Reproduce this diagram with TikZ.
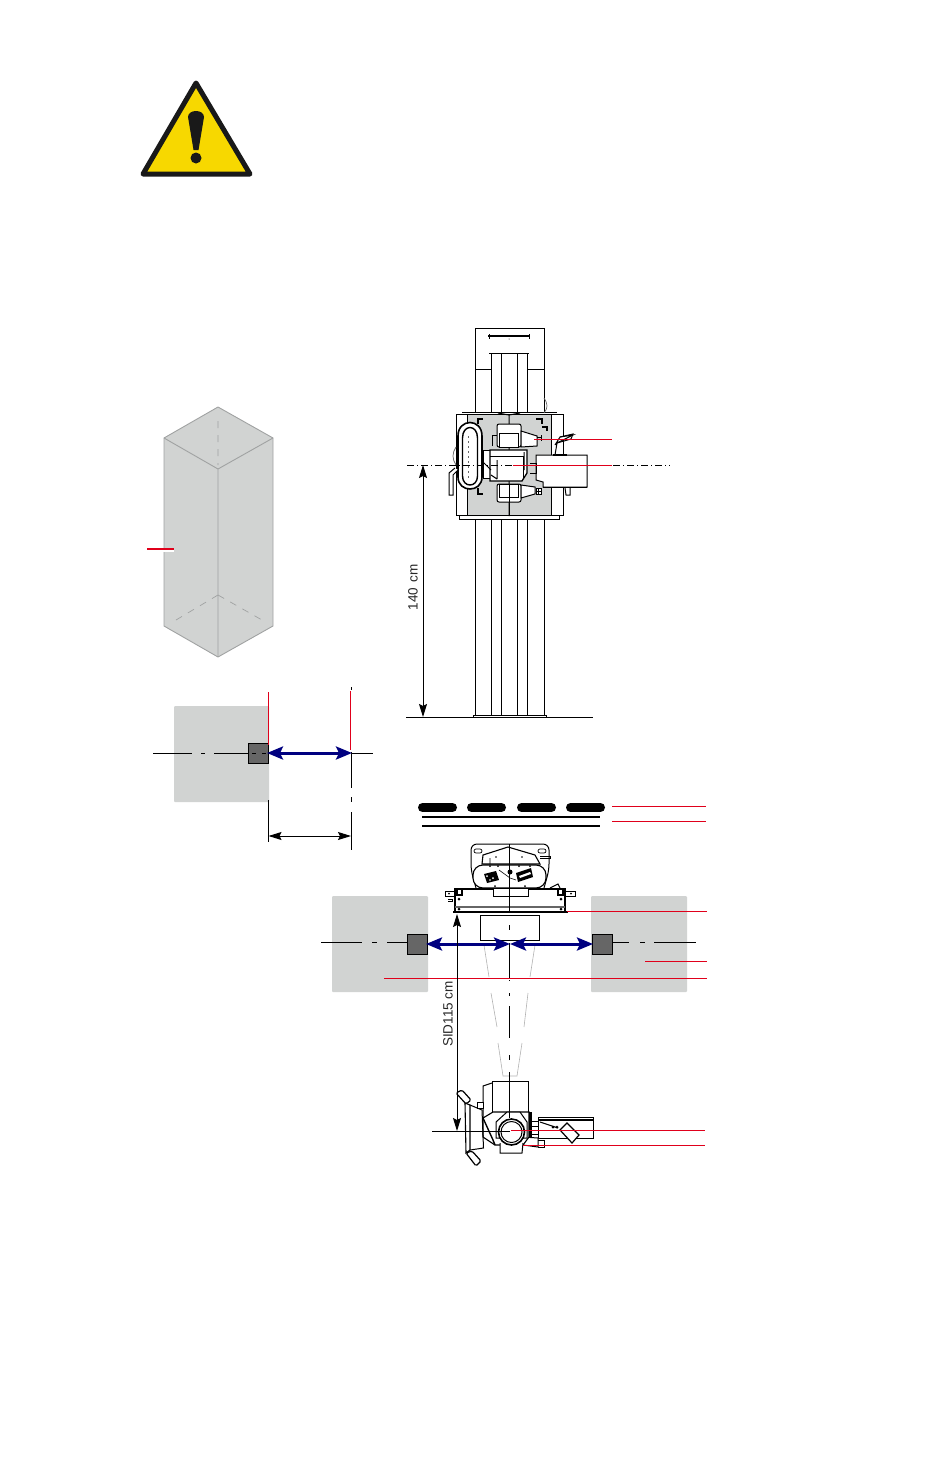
\documentclass[tikz,border=0pt]{standalone}
\usepackage{fontspec}
\setmainfont{Liberation Sans}
\usetikzlibrary{arrows.meta}
\definecolor{panelgray}{HTML}{D1D3D2}
\definecolor{boxgray}{HTML}{A0A2A2}
\definecolor{signyellow}{HTML}{F7D800}
\definecolor{leadred}{HTML}{E0001B}
\definecolor{arrowblue}{HTML}{000080}
\tikzset{
	ink/.style={line width=1pt,black},
	heavy/.style={line width=1.8pt,black},
	leader/.style={line width=1pt,leadred},
	panel/.style={fill=panelgray,rounded corners=1pt},
	blockbox/.style={fill=black!60,draw=black,line width=1pt},
	travel/.style={line width=3pt,arrowblue,{Stealth[length=16pt,width=13pt,inset=3pt]}-{Stealth[length=16pt,width=13pt,inset=3pt]}},
	dimline/.style={line width=1pt,black,{Stealth[length=13pt,width=8pt,inset=2pt]}-{Stealth[length=13pt,width=8pt,inset=2pt]}},
	taper/.style={line width=0.6pt,black!30},
	label/.style={font=\fontsize{13.5}{13.5}\selectfont,text=black!85,rotate=90,inner sep=0pt}
}
\begin{document}
\begin{tikzpicture}[x=1pt,y=-1pt]
	\useasboundingbox (0,0) rectangle (950,1480);
	% warning sign
	\draw[line width=5pt,line join=round,fill=signyellow,color=black!90,fill=signyellow] (196,83)--(250,174)--(143,174)--cycle;
	\fill[black!90] (188,117) .. controls (188,109) and (204,109) .. (204,117) -- (198.5,150) -- (193.5,150) -- cycle;
	\fill[black!90] (196,158) circle(5.5);
	% room box
	\draw[fill=panelgray,draw=boxgray,line width=0.9pt,line join=round] (218,407)--(273,438)--(273,626)--(218,657)--(164,626)--(164,438)--cycle;
	\draw[draw=boxgray,line width=0.9pt] (164,438)--(218,469)--(273,438) (218,469)--(218,657);
	\draw[draw=boxgray,line width=0.7pt,dash pattern=on 7pt off 7pt] (218,421)--(218,465) (218,595)--(176,620) (218,595)--(262,620);
	\draw[white,line width=1.2pt] (147,551)--(174,551);
	\draw[leader,line width=1.2pt] (147,549)--(174,549);
	% left plan view
	\fill[panel] (174,706) rectangle (269,802);
	\draw[ink] (153,753)--(192,753) (201,753)--(205,753) (214,753)--(248,753) (352,753)--(373,753);
	\draw[blockbox] (248,743) rectangle (268,763);
	\draw[ink] (252,753)--(256,753) (262,753)--(266,753);
	\draw[ink] (351.5,687)--(351.5,690);
	\draw[ink] (351.5,752)--(351.5,788);
	\draw[ink] (351.5,797)--(351.5,802) (351.5,812)--(351.5,850);
	\draw[ink] (268,800)--(268,842);
	\draw[leader] (268,692)--(268,745);
	\draw[leader] (350.5,691)--(350.5,750);
	\draw[travel] (267,753)--(352,753);
	\draw[dimline] (268.5,836)--(351,836);
	% column, front view
	\draw[ink] (475,369)--(475,328)--(544,328)--(544,369);
	\draw[heavy] (488,336)--(529,336);
	\draw[ink] (489,334)--(489,339) (529,334)--(529,339);
	\fill (509,339) circle(0.5);
	\draw[ink] (489,353)--(529,353);
	\draw[ink] (475,369)--(491,369) (527,369)--(544,369);
	\foreach \x in {475,491,501,517,527,544} {
		\draw[ink] (\x,369)--(\x,412);
		\draw[ink] (\x,519)--(\x,715);
	}
	\foreach \x in {491,501,517,527} \draw[ink] (\x,353)--(\x,369);
	\draw[ink] (473,715) rectangle (546,717);
	\draw[ink] (406,717)--(593,717);
	% carriage
	\fill[panelgray] (467,414) rectangle (551,515);
	\draw[ink] (456,414) rectangle (563,515);
	\draw[ink] (467,414)--(467,515) (551,414)--(551,515);
	\draw[ink] (459,515)--(459,519)--(559,519)--(559,515);
	\draw[line width=1.4pt] (462,412.5)--(557,412.5);
	\draw[ink] (498,413)--(509,415)--(520,413) (509,415)--(509,516);
	\draw[black!60,line width=0.7pt] (544,398) .. controls (548,404) and (548,408) .. (544,413);
	\draw[black!60,line width=0.7pt] (456,447) .. controls (452,453) and (452,459) .. (456,465);
	\foreach \a/\b/\c/\d/\e/\f in {478/424/478/419/483/419, 536/419/542/419/542/424, 542/427/547/427/547/431, 478/488/478/494/483/494}
		\draw[line width=1.2pt] (\a,\b)--(\c,\d)--(\e,\f);
	% handle
	\draw[line width=1.6pt,fill=white] (458,436) .. controls (458,418) and (482,418) .. (482,436) -- (482,477) .. controls (482,493) and (458,493) .. (458,477) -- cycle;
	\draw[line width=1.4pt,fill=white] (462.5,438) .. controls (462.5,424) and (477.5,424) .. (477.5,438) -- (477.5,476) .. controls (477.5,488) and (462.5,488) .. (462.5,476) -- cycle;
	\draw[black!60,line width=0.6pt,dash pattern=on 2pt off 3pt] (468,436)--(468,478);
	\draw[ink,fill=white] (455,468)--(449,473)--(449,495)--(453,495)--(453,475)--(458,470);
	% lamps
	\draw[ink,fill=white,rounded corners=2pt] (497,424) rectangle (521,447);
	\draw[ink,fill=white] (521,431)--(537,436)--(537,446)--(521,447)--cycle;
	\draw[ink] (537,437)--(541,437) (541,435)--(541,441);
	\draw[ink,fill=white] (499,433) rectangle (518,447);
	\draw[ink] (492,446)--(492,435)--(497,435);
	\draw[ink,fill=white,rounded corners=2pt] (497,484) rectangle (521,502);
	\draw[ink,fill=white] (521,485)--(535,487)--(535,494)--(521,498)--cycle;
	\draw[ink,fill=white] (499,484) rectangle (518,497);
	\draw[ink,fill=white] (536,488) rectangle (541,494);
	\draw[ink] (536,491)--(541,491) (538.5,488)--(538.5,494);
	\draw[ink] (509,484)--(509,516);
	% central block
	\draw[ink,fill=white] (483,450) rectangle (490,478);
	\draw[line width=1.3pt,fill=white] (490,450)--(527,450)--(527,473)--(522,481)--(490,481)--cycle;
	\draw[ink] (490,456)--(523,456)--(523,479);
	\draw[ink] (497,460)--(497,479) (491,475)--(497,479);
	\draw[ink] (524,452)--(524,470) (483,462)--(491,470);
	% right bracket
	\draw[ink,fill=white] (536,455)--(587,455)--(587,487)--(543,487)--(543,482)--(536,480)--cycle;
	\draw[heavy] (543,487.5)--(587,487.5);
	\draw[ink] (530,463)--(536,463)--(536,473)--(530,473);
	\draw[heavy] (553,455)--(567,455);
	\draw[ink,fill=white] (555,455)--(557,443)--(573,435)--(560,437)--(555,445);
	\draw[ink] (560,437)--(573,434)--(571,439)--(557,443);
	\draw[ink] (565,488)--(566,495)--(570,495)--(570,488);
	% leaders and axis, front view
	\draw[ink,dash pattern=on 7pt off 3pt on 1pt off 3pt] (407,465)--(513,465) (613,465)--(670,465);
	\draw[leader] (534,439)--(612,439);
	\draw[leader] (513,465)--(612,465);
	\draw[dimline] (423,465)--(423,717);
	\node[label] (frontheight) at (413,587) {140\hspace{5.5pt}cm};
	% grid and wall lines
	\foreach \x in {418,467,517,566}
		\draw[line width=9pt,line cap=round,black] (\x+4.5,807.5)--(\x+34.5,807.5);
	\draw[heavy] (422,817)--(600,817);
	\draw[heavy] (422,826)--(600,826);
	\draw[leader] (612,806)--(706,806);
	\draw[leader] (612,821)--(706,821);
	% side panels
	\fill[panel] (332,896) rectangle (428,992);
	\fill[panel] (591,896) rectangle (687,992);
	\draw[ink] (321,942)--(362,942) (372,942)--(377,942) (387,942)--(407,942);
	\draw[ink] (612,942)--(629,942) (640,942)--(645,942) (654,942)--(696,942);
	% collimator
	\draw[ink,rounded corners=6pt] (476,888)--(471,870)--(471,844)--(549,844)--(549,870)--(544,888);
	\draw[line width=0.7pt,fill=white,rounded corners=2pt] (474,849) rectangle (482,853);
	\draw[line width=0.7pt,fill=white,rounded corners=2pt] (538,849) rectangle (546,853);
	\draw[line width=1.1pt,fill=white] (482,864)--(483,855)--(508,847)--(535,855)--(540,864)--cycle;
	\draw[line width=1.1pt,fill=white,rounded corners=10pt] (473,865) rectangle (546,888);
	\draw[ink] (540,856)--(550,856)--(550,858)--(540,858);
	\fill[black] (484,874)--(496,871)--(499,880)--(487,883)--cycle;
	\fill[black] (516,873)--(531,868)--(533,877)--(518,882)--cycle;
	\fill[white] (519,876)--(530,872)--(531,874)--(520,878)--cycle;
	\fill[white] (487,876) circle(1) (493,878) circle(1) (490,880) circle(0.8);
	\fill (510,872) circle(2.5);
	\foreach \x/\y in {490/866,498/866,530/866,519/866,495/886,525/886} \fill (\x,\y) circle(1);
	\draw[line width=0.6pt] (490,858)--(490,864) (499,870)--(510,878)--(516,880);
	\fill (496,857) circle(0.9) (522,857) circle(0.9);
	\draw[ink,fill=white] (445,891) rectangle (455,896);
	\draw[ink,fill=white] (565,891) rectangle (575,896);
	\fill (449,893.5) circle(1) (571,893.5) circle(1);
	\draw[ink] (550,888)--(558,884)--(560,888);
	\draw[line width=1.1pt,fill=white] (455,889) rectangle (565,912);
	\fill[black!60] (455,906) rectangle (565,908);
	\draw[line width=2pt] (453,911.5)--(568,911.5);
	\draw[ink,fill=white] (493,889)--(493,896)--(528,896)--(528,889);
	\draw[line width=1.1pt,fill=white] (457,889) rectangle (462,895);
	\draw[line width=1.1pt,fill=white] (558,889) rectangle (563,895);
	\foreach \x/\y in {459/899,561/899,459/909,561/909} \fill (\x,\y) circle(1.5);
	\draw[ink] (448,899)--(452,899)--(452,901)--(448,901);
	\draw[ink,fill=white] (480,915) rectangle (539,940);
	% tube taper
	\draw[taper] (484,945)--(489,977) (491,993)--(497,1027) (498,1043)--(503,1076)--(517,1076)--(522,1043) (524,1027)--(528,993) (530,977)--(535,945);
	% central axis
	\draw[ink] (509.5,844)--(509.5,913) (509.5,925)--(509.5,930) (509.5,943)--(509.5,979) (509.5,980)--(509.5,981) (509.5,993)--(509.5,996) (509.5,1006)--(509.5,1038) (509.5,1055)--(509.5,1060) (509.5,1072)--(509.5,1081);
	% tube head
	\draw[ink,fill=white] (492,1081) rectangle (528,1112);
	\draw[ink] (492,1083)--(483,1086)--(483,1118);
	\draw[ink] (509.5,1081)--(509.5,1112);
	\draw[ink,fill=white] (538,1117) rectangle (593,1138);
	\draw[line width=1.4pt] (538,1120)--(593,1120);
	\draw[ink] (531,1121)--(538,1121) (531,1126)--(538,1126) (531,1134)--(538,1134);
	\draw[ink] (540,1122)--(558,1128);
	\fill (553,1127) circle(1.5) (557,1127) circle(1.5);
	\draw[line width=1.2pt,fill=white] (560,1130)--(567,1123)--(579,1135)--(572,1143)--cycle;
	\draw[ink,fill=white] (523,1137)--(538,1138)--(538,1147)--(523,1145)--cycle;
	\draw[ink] (538,1140)--(544,1140)--(544,1147)--(538,1147);
	\draw[line width=1.1pt,fill=white] (483,1118)--(493,1112)--(529,1112)--(529,1137)--(523,1145)--(495,1145)--(483,1137)--cycle;
	\draw[heavy,line width=3pt] (530,1112)--(530,1137);
	\draw[line width=1.4pt] (483,1118)--(493,1140)--(495,1145);
	\draw[ink,fill=white] (500,1143)--(500,1153)--(522,1153)--(523,1143);
	\draw[ink,fill=white] (496,1122)--(507,1112)--(520,1112)--(527,1122)--(527,1138)--(496,1138)--cycle;
	\draw[ink] (509.5,1112)--(509.5,1118);
	\draw[line width=1.6pt,fill=white] (511.5,1132) circle(13);
	\draw[ink] (511.5,1132) circle(10.5);
	\draw[ink] (470,1105)--(482,1110)--(483.5,1148)--(470,1150);
	\draw[line width=1.1pt,fill=white] (465,1103)--(470,1105)--(470,1150)--(466,1153)--cycle;
	\draw[ink,fill=white] (477,1102) rectangle (483,1108);
	\draw[line width=1.2pt,fill=white,rounded corners=1.5pt] (456,1093)--(462,1090)--(471,1100)--(466,1104)--cycle;
	\draw[line width=1.2pt,fill=white,rounded corners=1.5pt] (466,1153)--(472,1151)--(481,1161)--(476,1166)--cycle;
	\draw[ink] (432,1131)--(510,1131);
	% leaders, plan view
	\draw[leader] (567,911)--(707,911);
	\draw[leader] (645,961)--(707,961);
	\draw[leader] (384,978)--(707,978);
	\draw[leader] (511,1130)--(705,1130);
	\draw[leader] (523,1145)--(705,1145);
	% blocks and travel
	\draw[blockbox] (407,934) rectangle (427,954);
	\draw[blockbox] (592,934) rectangle (612,954);
	\draw[travel] (426,944)--(510,944);
	\draw[travel] (510,944)--(593,944);
	\draw[dimline] (457,914)--(457,1131);
	\node[label] (sidlength) at (448,1014) {SID115 cm};
\end{tikzpicture}
\end{document}
